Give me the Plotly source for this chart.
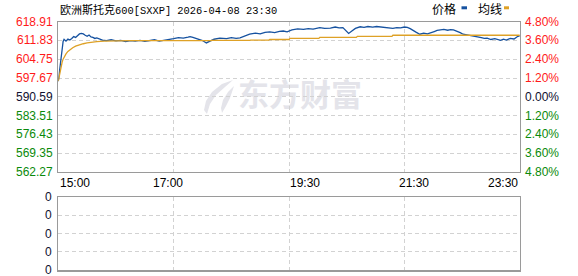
import plotly.graph_objects as go

# ---------------- data ----------------
title_cn = "欧洲斯托克"
title_rest = "600[SXXP] 2026-04-08 23:30"
legend_labels = ["价格", "均线"]
watermark = "东方财富"

y_levels = [618.91, 611.83, 604.75, 597.67, 590.59, 583.51, 576.43, 569.35, 562.27]
pct_labels = ["4.80%", "3.60%", "2.40%", "1.20%", "0.00%", "1.20%", "2.40%", "3.60%", "4.80%"]
base_price = 590.59

x_tick_labels = ["15:00", "17:00", "19:30", "21:30", "23:30"]
grid_x = [0, 120, 240, 360, 480]
vol_levels = [0, 1, 2, 3, 4]
vol_labels = ["0", "0", "0", "0", "0"]

price_x = [0, 1, 2, 3, 4, 5, 6, 7, 8, 10, 12, 14, 16, 18, 20, 22, 24, 26, 28, 30, 32, 34, 36, 38, 40,
           43, 46, 50, 55, 60, 65, 70, 75, 80, 85, 90, 95, 100, 105, 110, 116, 120, 125, 130, 135,
           137, 140, 145, 150, 154, 158, 162, 168, 175, 180, 185, 189, 194, 199, 205, 210, 215, 220,
           225, 230, 234, 238, 243, 249, 255, 260, 265, 272, 277, 283, 288, 292, 296, 299, 302, 305,
           309, 314, 318, 322, 327, 331, 335, 340, 344, 348, 352, 356, 360, 363, 366, 369, 372, 376,
           380, 384, 387, 391, 394, 397, 401, 405, 408, 411, 415, 418, 421, 425, 428, 432, 436, 440,
           443, 446, 450, 454, 457, 460, 463, 466, 470, 474, 478, 480]
price_y = [596.5, 599.5, 603.0, 607.0, 609.5, 611.5, 612.3, 612.0, 611.6, 612.4, 612.0, 612.6, 613.3,
           613.0, 613.8, 614.3, 614.5, 614.3, 613.8, 613.4, 613.9, 613.2, 613.0, 612.6, 612.8,
           612.4, 612.0, 611.8, 612.1, 611.7, 611.9, 611.4, 611.8, 611.6, 611.9, 611.5, 611.8, 612.1,
           611.6, 611.9, 612.0, 612.5, 612.9, 612.7, 613.1, 613.3, 613.0, 612.5, 611.8, 610.9, 611.6,
           612.3, 612.7, 612.5, 612.9, 612.6, 612.8, 613.5, 614.2, 614.6, 614.3, 614.9, 615.1, 614.8,
           615.3, 615.4, 615.1, 615.8, 616.2, 616.0, 616.3, 616.1, 616.7, 616.4, 616.5, 616.9, 616.6,
           616.7, 615.6, 614.5, 615.3, 616.4, 617.0, 616.8, 617.1, 616.9, 617.1, 617.0, 616.8, 616.5,
           616.4, 616.7, 616.6, 616.9, 616.8, 616.3, 615.8, 615.0, 614.2, 614.6, 614.3, 614.8, 615.2,
           615.6, 615.8, 616.0, 615.7, 615.9, 615.8, 615.3, 614.8, 614.2, 614.0, 613.8, 613.5, 613.2,
           612.9, 612.6, 612.7, 612.2, 612.5, 612.1, 611.9, 612.3, 612.0, 612.6, 612.4, 613.4, 613.6]

avg_x = [0, 1, 2, 3, 4, 5, 6, 8, 10, 12, 15, 18, 22, 26, 30, 35, 40, 48, 60, 75, 159, 160, 199, 200,
         219, 220, 240, 241, 271, 272, 310, 311, 347, 348, 480]
avg_y = [596.5, 598.5, 600.5, 602.3, 603.7, 604.8, 605.7, 606.8, 607.7, 608.4, 609.1, 609.7, 610.2,
         610.6, 610.9, 611.2, 611.4, 611.6, 611.7, 611.8, 611.8, 611.9, 611.9, 612.0, 612.0, 612.2,
         612.2, 612.6, 612.6, 613.0, 613.0, 613.4, 613.4, 613.8, 613.8]

# ---------------- styling / layout ----------------
W, H = 578, 276
L, R = 58.3, 519.8
T1, B1 = 21.7, 172.0
T2, B2 = 196.7, 270.3
BLUE = "#1652a0"
ORANGE = "#dea126"
GRID = "#d2d2d2"
FRAME = "#9a9a9a"
RED = "#ff1a1a"
GREEN = "#0a8a0a"
NAVY = "#101030"
NUMFONT = "Liberation Sans, Arial, sans-serif"
CJK = "Noto Sans CJK SC"


def px(x):
    return x / W


def py(y):
    return 1 - y / H


fig = go.Figure()
fig.add_trace(go.Scatter(x=price_x, y=price_y, mode="lines",
                         line=dict(color=BLUE, width=1.3), hoverinfo="skip", xaxis="x", yaxis="y"))
fig.add_trace(go.Scatter(x=avg_x, y=avg_y, mode="lines",
                         line=dict(color=ORANGE, width=1.3), hoverinfo="skip", xaxis="x", yaxis="y"))
fig.add_trace(go.Scatter(x=[None], y=[None], mode="lines", xaxis="x2", yaxis="y2", hoverinfo="skip"))

axis_common = dict(showgrid=True, gridcolor=GRID, gridwidth=1, griddash="4px,3px",
                   showline=True, mirror=True, linecolor=FRAME, linewidth=1.2,
                   zeroline=False, ticks="", showticklabels=False, fixedrange=True)

fig.update_layout(
    width=W, height=H, margin=dict(l=0, r=0, t=0, b=0),
    paper_bgcolor="white", plot_bgcolor="white", showlegend=False,
    xaxis=dict(domain=[px(L), px(R)], range=[0, 480], tickvals=grid_x, anchor="y", **axis_common),
    yaxis=dict(domain=[py(B1), py(T1)], range=[y_levels[-1], y_levels[0]], tickvals=y_levels,
               anchor="x", **axis_common),
    xaxis2=dict(domain=[px(L), px(R)], range=[0, 480], tickvals=grid_x, anchor="y2", **axis_common),
    yaxis2=dict(domain=[py(B2), py(T2)], range=[0, 4], tickvals=vol_levels, anchor="x2", **axis_common),
)

ann = []
# left price labels and right percentage labels
for v, p in zip(y_levels, pct_labels):
    if v > base_price + 1e-9:
        c = RED
    elif v < base_price - 1e-9:
        c = GREEN
    else:
        c = NAVY
    ann.append(dict(x=px(54.5), xref="paper", y=v, yref="y", text=f"{v:.2f}", showarrow=False,
                    xanchor="right", yanchor="middle", font=dict(family=NUMFONT, size=12, color=c)))
    ann.append(dict(x=px(522.5), xref="paper", y=v, yref="y", text=p, showarrow=False,
                    xanchor="left", yanchor="middle", font=dict(family=NUMFONT, size=12, color=c)))

# volume labels
for v, t in zip(vol_levels, vol_labels):
    ann.append(dict(x=px(53.5), xref="paper", y=v, yref="y2", text=t, showarrow=False,
                    xanchor="right", yanchor="middle", font=dict(family=NUMFONT, size=12, color=NAVY)))

# time labels
time_pos = [(58.0, "left"), (151.0, "left"), (288.0, "left"), (397.0, "left"), (520.0, "right")]
for t, (xp, anc) in zip(x_tick_labels, time_pos):
    ann.append(dict(x=px(xp), xref="paper", y=py(182.5), yref="paper", text=t, showarrow=False,
                    xanchor=anc, yanchor="middle", font=dict(family=NUMFONT, size=12, color="#000000")))

# title
ann.append(dict(x=px(57.5), xref="paper", y=py(8.5), yref="paper", showarrow=False,
                xanchor="left", yanchor="middle",
                text=(f'<span style="font-family:{CJK};font-size:11px">{title_cn}</span>'
                      f'<span style="font-family:Liberation Mono;font-size:10.4px">{title_rest}</span>'),
                font=dict(family=CJK, size=11, color="#000000")))

# legend texts
for t, xc in zip(legend_labels, [443.5, 489.5]):
    ann.append(dict(x=px(xc), xref="paper", y=py(8.5), yref="paper", text=t, showarrow=False,
                    xanchor="center", yanchor="middle", font=dict(family=CJK, size=12, color="#000000")))

fig.update_layout(annotations=ann)

shapes = []
# legend swatches
for (x0, x1), col in zip([(461.5, 467.0), (504.0, 509.0)], [BLUE, ORANGE]):
    shapes.append(dict(type="rect", xref="paper", yref="paper", x0=px(x0), x1=px(x1),
                       y0=py(9.3), y1=py(6.3), line=dict(width=0), fillcolor=col))

# watermark text (below grid)
shapes.append(dict(type="rect", xref="paper", yref="paper", layer="below",
                   x0=px(236), x1=px(364), y0=py(116), y1=py(78),
                   line=dict(width=0), fillcolor="rgba(0,0,0,0)",
                   label=dict(text=f"<b>{watermark}</b>", textposition="middle center",
                              font=dict(family=CJK, size=31, color="#e4e4ea"))))


def pth(pts):
    s = "M " + " L ".join(f"{px(a):.5f},{py(b):.5f}" for a, b in pts) + " Z"
    return s


# watermark logo (stylised leaf)
leaf1 = [(233, 80), (222, 84), (212, 92), (206, 101), (204, 110), (207, 114), (210, 104),
         (216, 95), (225, 87)]
leaf2 = [(234, 86), (228, 92), (223, 100), (221, 108), (222, 113), (226, 106), (230, 98)]
for lf in (leaf1, leaf2):
    shapes.append(dict(type="path", xref="paper", yref="paper", layer="below", path=pth(lf),
                       line=dict(width=0), fillcolor="#e4e4ea"))

fig.update_layout(shapes=shapes)

fig.write_html("out.html", config={"displayModeBar": False, "staticPlot": True})
